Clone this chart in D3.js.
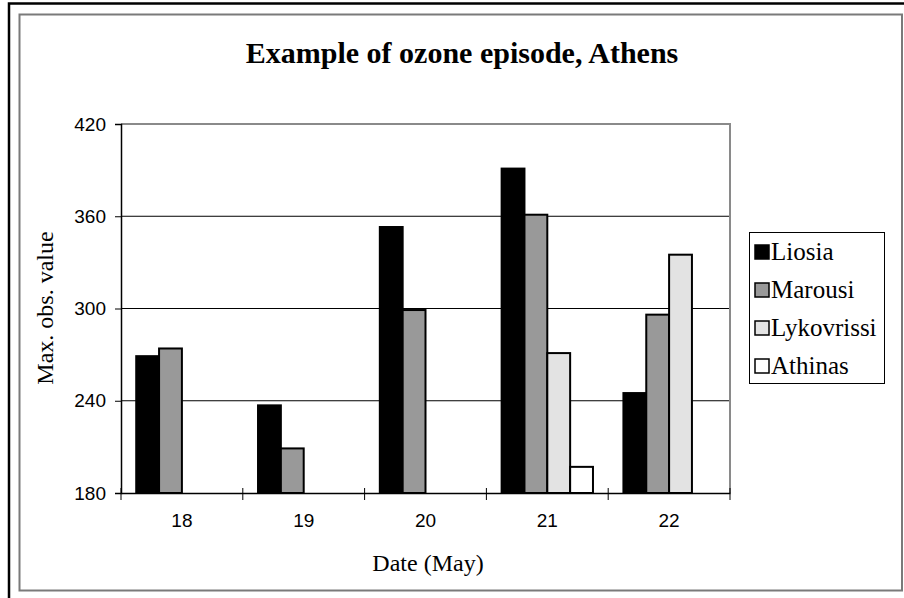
<!DOCTYPE html>
<html>
<head>
<meta charset="utf-8">
<script src="https://cdn.jsdelivr.net/npm/d3@7"></script>
<style>
  html, body { margin: 0; padding: 0; background: #fff; }
  svg { display: block; }
</style>
</head>
<body>
<svg id="chart" width="904" height="598"></svg>
<script>
// Dates of the episode (May) and daily maximum ozone per station
const dates = ["18", "19", "20", "21", "22"];
const stations = ["Liosia", "Marousi", "Lykovrissi", "Athinas"];
const liosia     = [269, 237, 353, 391, 245];
const marousi    = [274, 209, 299, 361, 296];
const lykovrissi = [null, null, null, 271, 335];
const athinas    = [null, null, null, 197, null];
const yTicks = [180, 240, 300, 360, 420];
const fills = ["#000000", "#999999", "#e3e3e3", "#ffffff"];

const seriesValues = [liosia, marousi, lykovrissi, athinas];

const svg = d3.select("#chart");

// outer and inner frames
svg.append("path")
  .attr("d", "M9,600 V3.5 H906")
  .attr("fill", "none").attr("stroke", "#000").attr("stroke-width", 2.5);
svg.append("rect")
  .attr("x", 19.5).attr("y", 14.5).attr("width", 882.5).attr("height", 576)
  .attr("fill", "#fff").attr("stroke", "#7a7a7a").attr("stroke-width", 2);

const plot = { left: 121, right: 730, top: 124, bottom: 493 };

const x0 = d3.scaleBand().domain(dates).range([plot.left, plot.right]).padding(0);
const bw = x0.bandwidth();
const x1 = d3.scaleBand().domain(stations).range([bw * 0.125, bw * 0.875]).padding(0);
const y = d3.scaleLinear().domain([180, 420]).range([plot.bottom, plot.top]);

// gridlines
svg.append("g").selectAll("line")
  .data(yTicks.filter(t => t > 180 && t < 420))
  .join("line")
  .attr("x1", plot.left).attr("x2", plot.right)
  .attr("y1", d => y(d)).attr("y2", d => y(d))
  .attr("stroke", "#000").attr("stroke-width", 1);

// plot border (top and right)
svg.append("path")
  .attr("d", `M${plot.left},${plot.top} H${plot.right} V${plot.bottom}`)
  .attr("fill", "none").attr("stroke", "#8a8a8a").attr("stroke-width", 2);

// bars
const rows = [];
dates.forEach((d, i) => {
  stations.forEach((s, j) => {
    const v = seriesValues[j][i];
    if (v != null) rows.push({ date: d, station: s, value: v, fill: fills[j] });
  });
});
svg.append("g").selectAll("rect")
  .data(rows)
  .join("rect")
  .attr("x", d => x0(d.date) + x1(d.station))
  .attr("y", d => y(d.value))
  .attr("width", x1.bandwidth())
  .attr("height", d => y(180) - y(d.value))
  .attr("fill", d => d.fill)
  .attr("stroke", "#000").attr("stroke-width", 2)
  .attr("stroke-linejoin", "miter");

// y axis
const yAxis = d3.axisLeft(y).tickValues(yTicks).tickSize(6).tickPadding(9);
const gy = svg.append("g").attr("transform", `translate(${plot.left},0)`).call(yAxis);
gy.select(".domain").attr("stroke", "#000").attr("stroke-width", 1.5);
gy.selectAll(".tick line").attr("stroke", "#000");
gy.selectAll(".tick text")
  .attr("font-family", "Liberation Sans, Arial, sans-serif")
  .attr("font-size", 19).attr("fill", "#000");

// x axis: ticks between categories
const xAxis = d3.axisBottom(x0).tickSize(0).tickPadding(21);
const gx = svg.append("g").attr("transform", `translate(0,${plot.bottom})`).call(xAxis);
gx.select(".domain").attr("stroke", "#000").attr("stroke-width", 1.5);
gx.selectAll(".tick text")
  .attr("font-family", "Liberation Sans, Arial, sans-serif")
  .attr("font-size", 19).attr("fill", "#000");
const boundaries = dates.map(d => x0(d)).concat([x0(dates[dates.length - 1]) + bw]);
gx.selectAll(".sep").data(boundaries).join("line")
  .attr("class", "sep")
  .attr("x1", d => d).attr("x2", d => d)
  .attr("y1", -5).attr("y2", 7)
  .attr("stroke", "#000").attr("stroke-width", 1);

// titles
svg.append("text")
  .attr("x", 462).attr("y", 63)
  .attr("text-anchor", "middle")
  .attr("font-family", "Liberation Serif, Times New Roman, serif")
  .attr("font-weight", "bold").attr("font-size", 30)
  .text("Example of ozone episode, Athens");

svg.append("text")
  .attr("x", 428).attr("y", 571)
  .attr("text-anchor", "middle")
  .attr("font-family", "Liberation Serif, Times New Roman, serif")
  .attr("font-size", 24)
  .text("Date (May)");

svg.append("text")
  .attr("transform", "translate(53,308) rotate(-90)")
  .attr("text-anchor", "middle")
  .attr("font-family", "Liberation Serif, Times New Roman, serif")
  .attr("font-size", 24)
  .text("Max. obs. value");

// legend
const lg = svg.append("g").attr("transform", "translate(749,232)");
lg.append("rect").attr("x", 0.5).attr("y", 0.5).attr("width", 135).attr("height", 151)
  .attr("fill", "#fff").attr("stroke", "#000").attr("stroke-width", 1);
const items = lg.selectAll("g.item").data(stations).join("g")
  .attr("class", "item")
  .attr("transform", (d, i) => `translate(0,${20 + i * 38})`);
items.append("rect")
  .attr("x", 6).attr("y", -7).attr("width", 14).attr("height", 14)
  .attr("fill", (d, i) => fills[i]).attr("stroke", "#000").attr("stroke-width", 1.5);
items.append("text")
  .attr("x", 22).attr("y", 8)
  .attr("font-family", "Liberation Serif, Times New Roman, serif")
  .attr("font-size", 25)
  .text(d => d);
</script>
</body>
</html>
